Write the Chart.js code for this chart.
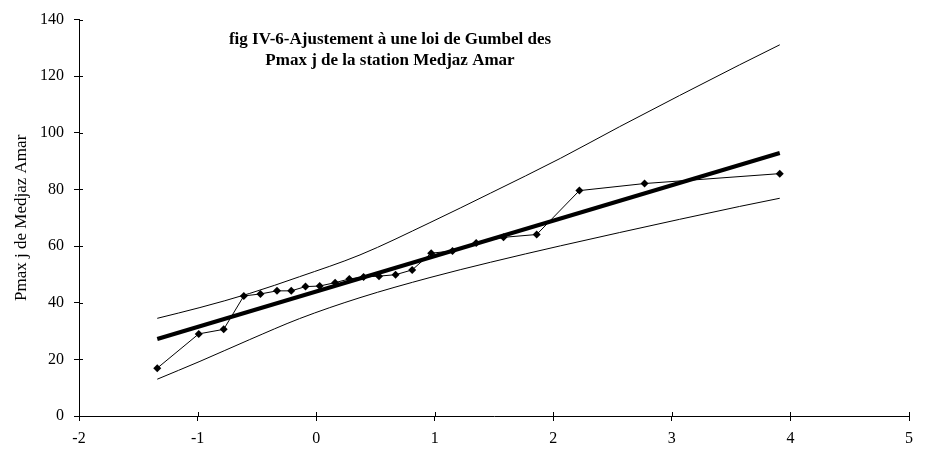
<!DOCTYPE html>
<html>
<head>
<meta charset="utf-8">
<script src="https://cdn.jsdelivr.net/npm/chart.js@4.4.1/dist/chart.umd.min.js"></script>
<style>
  html, body { margin: 0; padding: 0; background: #fff; }
  #wrap { width: 927px; height: 453px; }
</style>
</head>
<body>
<div id="wrap"><canvas id="gumbelChart" width="927" height="453"></canvas></div>
<script>
// Titre et libellés
const titleLines = ["fig IV-6-Ajustement à une loi de Gumbel des", "Pmax j de la station Medjaz Amar"];
const yAxisTitle = "Pmax j de Medjaz Amar";

// Valeurs observées (variable réduite de Gumbel, Pmax j)
const obsX = [-1.34, -0.99, -0.78, -0.61, -0.47, -0.33, -0.21, -0.09, 0.03, 0.16, 0.28, 0.40, 0.53, 0.67, 0.81, 0.97, 1.15, 1.35, 1.58, 1.86, 2.22, 2.77, 3.91];
const obsY = [16.9, 29.0, 30.6, 42.4, 43.1, 44.2, 44.2, 45.7, 45.9, 47.1, 48.4, 49.1, 49.4, 49.9, 51.6, 57.5, 58.3, 61.1, 63.1, 64.1, 79.6, 82.1, 85.6];

// Droite de Gumbel ajustée
const fitX = [-1.34, 3.91];
const fitY = [27.2, 92.9];

// Intervalle de confiance (bornes supérieure et inférieure)
const boundX = [-1.34, -0.98, -0.56, -0.14, 0.37, 0.96, 1.47, 2.06, 2.56, 3.57, 3.91];
const upperY = [34.5, 38.3, 43.3, 49.2, 56.9, 68.3, 78.7, 91.0, 102.2, 124.0, 131.1];
const lowerY = [13.0, 19.3, 27.0, 34.4, 41.8, 48.9, 54.3, 60.1, 64.8, 74.0, 76.9];

const toPoints = (xs, ys) => xs.map((x, i) => ({ x: x, y: ys[i] }));

Chart.defaults.font.family = "'Liberation Serif', 'Times New Roman', serif";
Chart.defaults.color = "#000";

// Titre dessiné dans la zone du graphique (comme dans Excel)
const titlePlugin = {
    id: "innerTitle",
    afterDraw(chart) {
        const ctx = chart.ctx;
        ctx.save();
        ctx.font = "bold 17px 'Liberation Serif', 'Times New Roman', serif";
        ctx.fillStyle = "#000";
        ctx.textAlign = "center";
        ctx.textBaseline = "middle";
        ctx.fillText(titleLines[0], 390, 40);
        ctx.fillText(titleLines[1], 390, 61);
        ctx.restore();
    }
};

// Graduations qui traversent les axes
const crossTicks = {
    id: "crossTicks",
    afterDraw(chart) {
        const c = chart.ctx;
        const xs = chart.scales.x, ys = chart.scales.y;
        c.save();
        c.strokeStyle = "#000";
        c.lineWidth = 1;
        c.beginPath();
        xs.ticks.forEach(t => {
            const px = Math.round(xs.getPixelForValue(t.value)) + 0.5;
            c.moveTo(px, ys.bottom);
            c.lineTo(px, ys.bottom - 4);
        });
        ys.ticks.forEach(t => {
            const py = Math.round(ys.getPixelForValue(t.value)) + 0.5;
            c.moveTo(xs.left, py);
            c.lineTo(xs.left + 4, py);
        });
        c.stroke();
        c.restore();
    }
};

const ctx = document.getElementById("gumbelChart").getContext("2d");
new Chart(ctx, {
    type: "scatter",
    data: {
        datasets: [
            {
                label: "Borne supérieure",
                data: toPoints(boundX, upperY),
                showLine: true,
                borderColor: "#000",
                borderWidth: 1,
                pointRadius: 0,
                cubicInterpolationMode: "monotone"
            },
            {
                label: "Borne inférieure",
                data: toPoints(boundX, lowerY),
                showLine: true,
                borderColor: "#000",
                borderWidth: 1,
                pointRadius: 0,
                cubicInterpolationMode: "monotone"
            },
            {
                label: "Pmax j observées",
                data: toPoints(obsX, obsY),
                showLine: true,
                borderColor: "#000",
                borderWidth: 1,
                pointStyle: "rectRot",
                pointRadius: 4,
                pointBackgroundColor: "#000",
                pointBorderColor: "#000",
                pointBorderWidth: 0
            },
            {
                label: "Droite de Gumbel",
                data: toPoints(fitX, fitY),
                showLine: true,
                borderColor: "#000",
                borderWidth: 4,
                pointRadius: 0
            }
        ]
    },
    options: {
        responsive: false,
        animation: false,
        layout: { padding: { top: 19, right: 18, left: 0, bottom: 0 } },
        plugins: {
            legend: { display: false },
            tooltip: { enabled: false }
        },
        scales: {
            x: {
                type: "linear",
                min: -2,
                max: 5,
                ticks: { stepSize: 1, font: { size: 16 }, padding: 8, maxRotation: 0 },
                grid: { drawOnChartArea: false, color: "#000", tickLength: 5 },
                border: { color: "#000", width: 1 },
                afterFit(scale) { scale.height = 37; }
            },
            y: {
                min: 0,
                max: 140,
                ticks: { stepSize: 20, font: { size: 16 }, padding: 10 },
                grid: { drawOnChartArea: false, color: "#000", tickLength: 5 },
                border: { color: "#000", width: 1 },
                title: {
                    display: true,
                    text: yAxisTitle,
                    font: { size: 17 },
                    padding: { top: 11, bottom: 0 }
                },
                afterFit(scale) { scale.width = 79; }
            }
        }
    },
    plugins: [titlePlugin, crossTicks]
});
</script>
</body>
</html>
